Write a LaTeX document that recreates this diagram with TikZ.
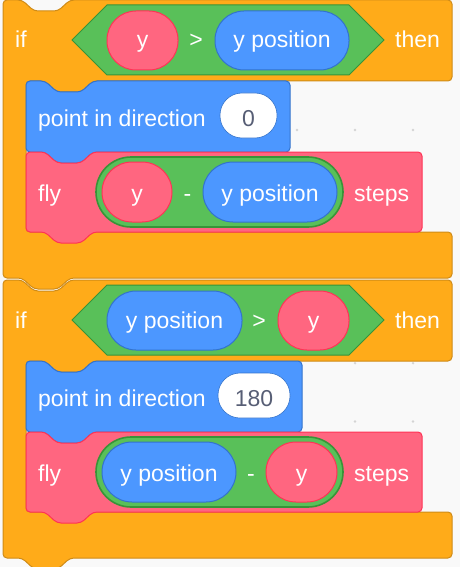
\documentclass[tikz,border=0pt]{standalone}
\usepackage{fontspec}
\setmainfont{Liberation Sans}
\definecolor{bg}{HTML}{F9F9F9}
\definecolor{dotc}{HTML}{D4D4D4}
\definecolor{ctrlF}{HTML}{FFAB19}
\definecolor{ctrlD}{HTML}{CF8B17}
\definecolor{motF}{HTML}{4C97FF}
\definecolor{motD}{HTML}{3373CC}
\definecolor{opF}{HTML}{59C059}
\definecolor{opD}{HTML}{389438}
\definecolor{cusF}{HTML}{FF6680}
\definecolor{cusD}{HTML}{FF3355}
\definecolor{inTxt}{HTML}{575E75}
% stack block: x1,y1,x2,y2,style
\newcommand\sbk[5]{%
  \draw[#5,rounded corners=4] (#1,#2) -- ({#1+19},#2) -- ({#1+31},{#2+11}) -- ({#1+55},{#2+11}) -- ({#1+67},#2) -- (#3,#2) -- (#3,#4) -- ({#1+67},#4) -- ({#1+55},{#4+11}) -- ({#1+31},{#4+11}) -- ({#1+19},#4) -- (#1,#4) -- cycle;}
% C block: x1,y1,x2,mouthtop,mouthbottom,ybottom,innerx
\newcommand\cbk[7]{%
  \draw[ctrl,rounded corners=4] (#1,#2) -- ({#1+19},#2) -- ({#1+31},{#2+11}) -- ({#1+55},{#2+11}) -- ({#1+67},#2) -- (#3,#2) -- (#3,#4) -- ({#7+67},#4) -- ({#7+55},{#4+11}) -- ({#7+31},{#4+11}) -- ({#7+19},#4) -- (#7,#4) -- (#7,#5) -- (#3,#5) -- (#3,#6) -- ({#1+67},#6) -- ({#1+55},{#6+11}) -- ({#1+31},{#6+11}) -- ({#1+19},#6) -- (#1,#6) -- cycle;}
\tikzset{
  ctrl/.style={fill=ctrlF,draw=ctrlD,line width=1pt},
  motion/.style={fill=motF,draw=motD,line width=1pt},
  custom/.style={fill=cusF,draw=cusD,line width=1pt},
  boolop/.style={fill=opF,draw=opD,line width=1pt},
  greprep/.style={fill=opF,draw=opD,line width=1.6pt},
  motrep/.style={fill=motF,draw=motD,line width=1pt},
  cusrep/.style={fill=cusF,draw=cusD,line width=1pt},
  numin/.style={fill=white,draw=motD,line width=0.6pt},
  lbl/.style={inner sep=0,text=white,font=\fontsize{23}{27}\selectfont},
  lblL/.style={lbl,anchor=base west},
  lblC/.style={lbl,anchor=base},
  numtxt/.style={lblC,text=inTxt}
}
\begin{document}
\begin{tikzpicture}[x=1pt,y=-1pt]
\useasboundingbox (0,0) rectangle (460,567);
\fill[bg] (0,0) rectangle (460,567);
\foreach \i in {0,...,7}{\foreach \j in {0,...,9}{\fill[dotc] ({7+58*\i},{13.4+58.3*\j}) circle (1.3);}}
% ===== block 1 =====
\cbk{3}{0}{452}{81}{232}{278}{26}
\sbk{26}{81}{290}{152}{motion}
\sbk{26}{152}{422}{232}{custom}
\draw[boolop] (72,40) -- (107,5) -- (349,5) -- (384,40) -- (349,75) -- (107,75) -- cycle;
\draw[cusrep,rounded corners=29] (107,11) rectangle (178,70);
\draw[motrep,rounded corners=29] (215,11) rectangle (349,70);
\draw[numin,rounded corners=22] (220,93) rectangle (277,138);
\draw[greprep,rounded corners=35] (96,157) rectangle (343,227);
\draw[cusrep,rounded corners=30] (102,162) rectangle (172,222);
\draw[motrep,rounded corners=30] (203,162) rectangle (337,222);
\node[lblL] (if1) at (15,48) {if};
\node[lblC] (ya1) at (142.5,48) {y};
\node[lblC] (gt1) at (196,48) {>};
\node[lblC] (yp1) at (282,48) {y position};
\node[lblL] (then1) at (395,48) {then};
\node[lblL] (pd1) at (38,126) {point in direction};
\node[numtxt] (n1) at (248.5,126) {0};
\node[lblL] (fly1) at (38,201) {fly};
\node[lblC] (yb1) at (137,201) {y};
\node[lblC] (mi1) at (187.5,201) {-};
\node[lblC] (ypb1) at (270,201) {y position};
\node[lblL] (st1) at (354,201) {steps};
% ===== block 2 =====
\cbk{3}{280}{452}{361}{512}{558}{26}
\sbk{26}{361}{302}{432}{motion}
\sbk{26}{432}{422}{512}{custom}
\draw[boolop] (72,320) -- (107,285) -- (349,285) -- (384,320) -- (349,355) -- (107,355) -- cycle;
\draw[motrep,rounded corners=29] (107,291) rectangle (242,350);
\draw[cusrep,rounded corners=29] (278,291) rectangle (349,350);
\draw[numin,rounded corners=22] (218,373) rectangle (290,418);
\draw[greprep,rounded corners=35] (96,437) rectangle (343,507);
\draw[motrep,rounded corners=30] (102,442) rectangle (236,502);
\draw[cusrep,rounded corners=30] (266,442) rectangle (337,502);
\node[lblL] (if2) at (15,328) {if};
\node[lblC] (yp2) at (174.5,328) {y position};
\node[lblC] (gt2) at (259,328) {>};
\node[lblC] (ya2) at (313.5,328) {y};
\node[lblL] (then2) at (395,328) {then};
\node[lblL] (pd2) at (38,406) {point in direction};
\node[numtxt] (n2) at (254,406) {180};
\node[lblL] (fly2) at (38,481) {fly};
\node[lblC] (ypb2) at (169,481) {y position};
\node[lblC] (mi2) at (251,481) {-};
\node[lblC] (yb2) at (301.5,481) {y};
\node[lblL] (st2) at (354,481) {steps};
\end{tikzpicture}
\end{document}
